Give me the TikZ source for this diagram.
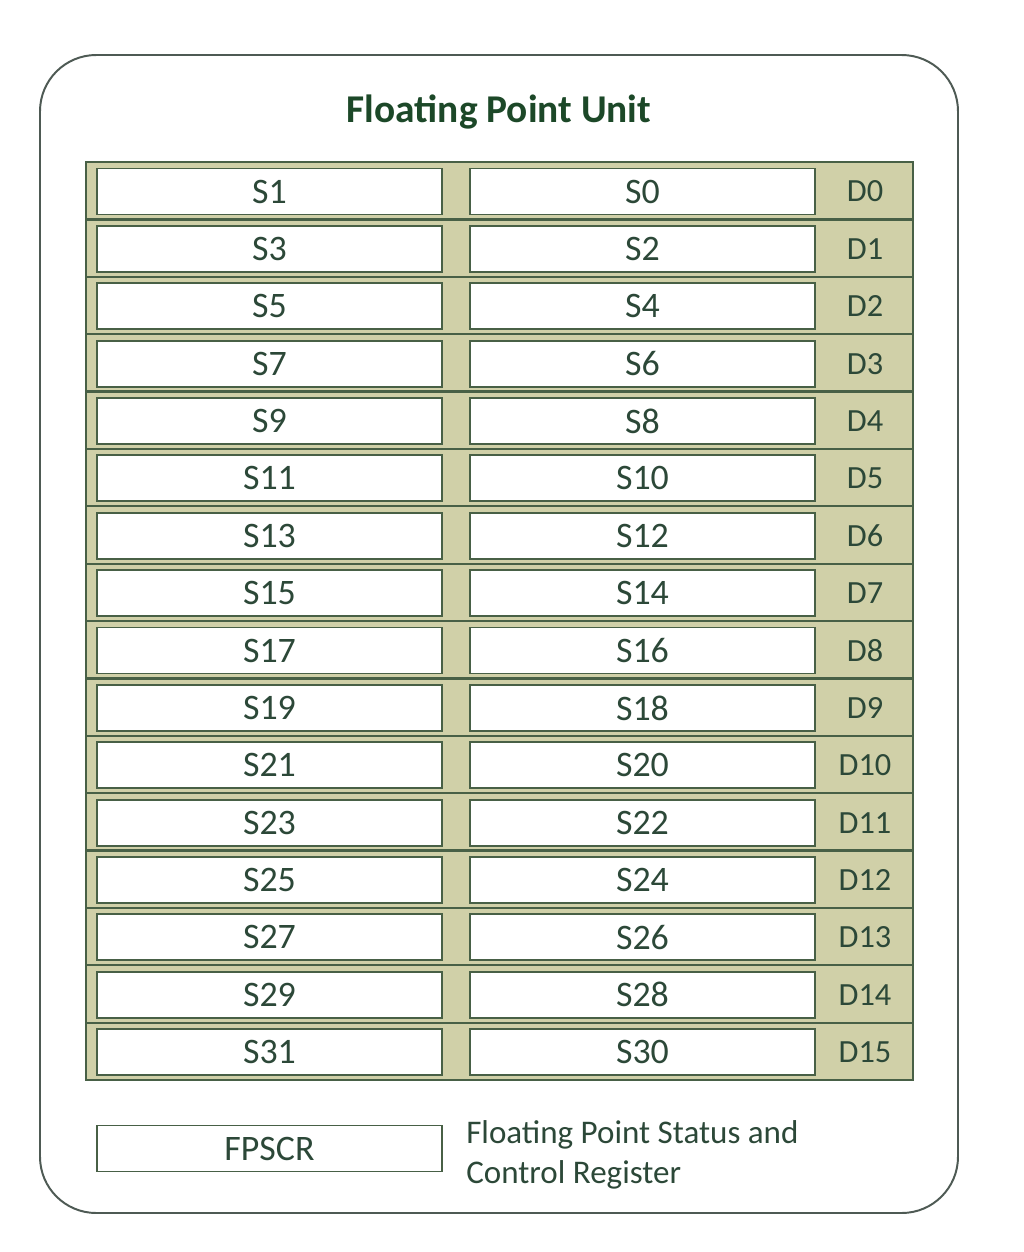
\documentclass[tikz,border=0pt]{standalone}
\usepackage{fontspec}
\setmainfont{Carlito}
\usepackage{tikz}

\definecolor{fpuframe}{RGB}{78,90,84}
\definecolor{fpuband}{RGB}{208,208,168}
\definecolor{fpurule}{RGB}{72,96,70}
\definecolor{fputext}{RGB}{44,72,56}
\definecolor{fputitle}{RGB}{28,72,40}

\tikzset{
  reg/.style={draw=fpurule, line width=1.3pt, fill=white, text=fputext,
    minimum width=8.625cm, minimum height=1.15cm, inner sep=0pt,
    font=\fontsize{25.5}{30}\selectfont},
  dlab/.style={text=fputext, inner sep=0pt, font=\fontsize{23}{27}\selectfont},
  rowline/.style={fpurule, line width=1.6pt}
}

\begin{document}
\begin{tikzpicture}[x=0.025cm,y=-0.025cm]
			\useasboundingbox (0,0) rectangle (1024,1252);
			% outer frame of the unit
			\draw[fpuframe, line width=1.4pt, rounded corners=40pt] (40,55) rectangle (958,1213);
			\node[anchor=base, text=fputitle, font=\fontsize{28}{33}\selectfont\bfseries] (title) at (499,122) {Floating Point Unit};
			% register bank
			\fill[fpuband] (86,162) rectangle (913,1080);
			\foreach \i in {1,...,15}
				\draw[rowline] (86,{162+57.375*\i}) -- (913,{162+57.375*\i});
			\draw[fpurule, line width=1.8pt] (86,162) rectangle (913,1080);
			\foreach \i in {0,...,15} {
				\pgfmathsetmacro{\yc}{191.5+57.375*\i}
				\pgfmathtruncatemacro{\sodd}{2*\i+1}
				\pgfmathtruncatemacro{\seven}{2*\i}
				\node[reg] (s\sodd) at (269.5,\yc) {S\sodd};
				\node[reg] (s\seven) at (642.5,\yc) {S\seven};
				\node[dlab] (d\i) at (865,\yc) {D\i};
			}
			% status and control register
			\node[reg] (fpscr) at (269.5,1148.5) {FPSCR};
			\node[anchor=north west, align=left, inner sep=0pt, text=fputext,
				font=\fontsize{23.5}{28.5}\selectfont] (fpscrtxt) at (466,1120) {Floating Point Status and\\Control Register};
		\end{tikzpicture}
\end{document}
